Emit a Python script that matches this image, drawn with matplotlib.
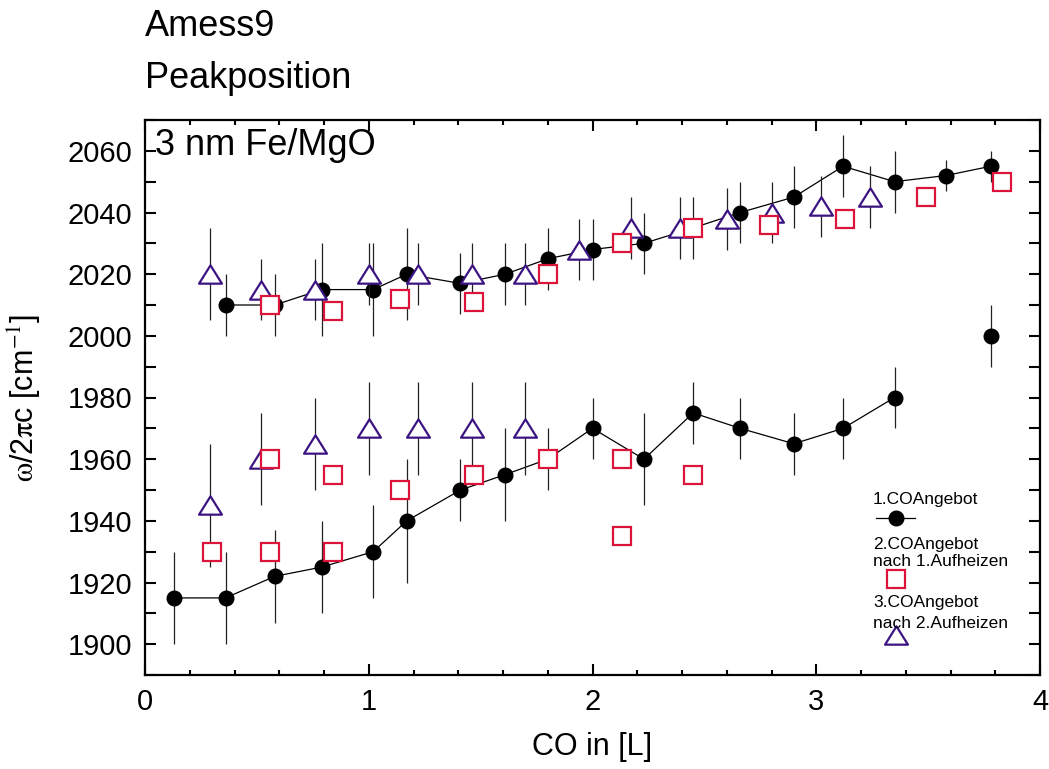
import matplotlib
matplotlib.use("Agg")
import matplotlib.pyplot as plt
from matplotlib.ticker import MultipleLocator
from matplotlib.path import Path

plt.rcParams['font.family'] = ['Liberation Sans', 'DejaVu Sans']
plt.rcParams['mathtext.fontset'] = 'stix'

# 1. CO Angebot (filled circles, connected, with error bars)
circ_up_x = [0.36, 0.58, 0.79, 1.02, 1.17, 1.41, 1.61, 1.80, 2.00, 2.23, 2.45, 2.66, 2.90, 3.12, 3.35, 3.58, 3.78]
circ_up_y = [2010, 2010, 2015, 2015, 2020, 2017, 2020, 2025, 2028, 2030, 2035, 2040, 2045, 2055, 2050, 2052, 2055]
circ_up_err = [10, 10, 15, 15, 15, 10, 10, 10, 10, 10, 10, 10, 10, 10, 10, 5, 5]

circ_lo_x = [0.13, 0.36, 0.58, 0.79, 1.02, 1.17, 1.41, 1.61, 1.80, 2.00, 2.23, 2.45, 2.66, 2.90, 3.12, 3.35]
circ_lo_y = [1915, 1915, 1922, 1925, 1930, 1940, 1950, 1955, 1960, 1970, 1960, 1975, 1970, 1965, 1970, 1980]
circ_lo_err = [15, 15, 15, 15, 15, 20, 10, 15, 10, 10, 15, 10, 10, 10, 10, 10]

circ_single_x = [3.78]
circ_single_y = [2000]
circ_single_err = [10]

# 2. CO Angebot nach 1. Aufheizen (open squares)
sq_up_x = [0.56, 0.84, 1.14, 1.47, 1.80, 2.13, 2.45, 2.79, 3.13, 3.49, 3.83]
sq_up_y = [2010, 2008, 2012, 2011, 2020, 2030, 2035, 2036, 2038, 2045, 2050]
sq_lo_x = [0.30, 0.56, 0.84, 0.56, 0.84, 1.14, 1.47, 1.80, 2.13, 2.45, 2.13]
sq_lo_y = [1930, 1930, 1930, 1960, 1955, 1950, 1955, 1960, 1960, 1955, 1935]

# 3. CO Angebot nach 2. Aufheizen (open triangles, with error bars)
tri_up_x = [0.29, 0.52, 0.76, 1.00, 1.22, 1.46, 1.70, 1.94, 2.17, 2.39, 2.60, 2.80, 3.02, 3.24]
tri_up_y = [2020, 2015, 2015, 2020, 2020, 2020, 2020, 2028, 2035, 2035, 2038, 2040, 2042, 2045]
tri_up_err = [15, 10, 10, 10, 10, 10, 10, 10, 10, 10, 10, 10, 10, 10]
tri_lo_x = [0.29, 0.52, 0.76, 1.00, 1.22, 1.46, 1.70]
tri_lo_y = [1945, 1960, 1965, 1970, 1970, 1970, 1970]
tri_lo_err = [20, 15, 15, 15, 15, 15, 15]

legend_labels = ["1.COAngebot", "2.COAngebot\nnach 1.Aufheizen", "3.COAngebot\nnach 2.Aufheizen"]

RED = '#dc143c'
PURPLE = '#3c1482'

# wide, flat open triangle
tri_marker = Path([(-1.0, -0.8), (1.0, -0.8), (0.0, 0.8), (-1.0, -0.8)],
                  [Path.MOVETO, Path.LINETO, Path.LINETO, Path.CLOSEPOLY])

fig = plt.figure(figsize=(10.49, 7.69), dpi=100)
ax = fig.add_axes([145 / 1049, 1 - 675 / 769, 895 / 1049, 555 / 769])

err_kw = dict(ecolor='#222222', elinewidth=0.9, capsize=0)

for xs, ys, es in [(circ_up_x, circ_up_y, circ_up_err), (circ_lo_x, circ_lo_y, circ_lo_err)]:
    ax.errorbar(xs, ys, yerr=es, fmt='o', color='black', markersize=10.5,
                linestyle='-', linewidth=0.9, zorder=2, **err_kw)
ax.errorbar(circ_single_x, circ_single_y, yerr=circ_single_err, fmt='o', color='black',
            markersize=10.5, zorder=2, **err_kw)

for xs, ys, es in [(tri_up_x, tri_up_y, tri_up_err), (tri_lo_x, tri_lo_y, tri_lo_err)]:
    ax.errorbar(xs, ys, yerr=es, fmt='none', zorder=3, **err_kw)
    ax.plot(xs, ys, linestyle='none', marker=tri_marker, markersize=16.5,
            markerfacecolor='white', markeredgecolor=PURPLE, markeredgewidth=1.6, zorder=4)

for xs, ys in [(sq_up_x, sq_up_y), (sq_lo_x, sq_lo_y)]:
    ax.plot(xs, ys, linestyle='none', marker='s', markersize=12.5,
            markerfacecolor='white', markeredgecolor=RED, markeredgewidth=1.6, zorder=5)

ax.set_xlim(0, 4)
ax.set_ylim(1890, 2070)
ax.xaxis.set_major_locator(MultipleLocator(1))
ax.xaxis.set_minor_locator(MultipleLocator(0.2))
ax.yaxis.set_major_locator(MultipleLocator(20))
ax.yaxis.set_minor_locator(MultipleLocator(10))
ax.tick_params(which='both', direction='in', top=True, right=True, width=1.5, labelsize=21)
ax.tick_params(axis='x', which='major', length=8, pad=9)
ax.tick_params(axis='x', which='minor', length=3.8)
ax.tick_params(axis='y', which='both', length=8, pad=9)
for sp in ax.spines.values():
    sp.set_linewidth(1.6)

ax.set_xlabel("CO in [L]", fontsize=22, labelpad=12)
ax.set_ylabel(r"$\mathrm{\omega}$/2$\mathrm{\pi}$c [cm$^{-1}$]", fontsize=22, labelpad=18)

ax.text(0.011, 0.985, "3 nm Fe/MgO", transform=ax.transAxes, fontsize=26,
        ha='left', va='top')

fig.text(145 / 1049, 1 - 36 / 769, "Amess9", fontsize=26, ha='left', va='baseline')
fig.text(145 / 1049, 1 - 88 / 769, "Peakposition", fontsize=26, ha='left', va='baseline')

# key
tx = 0.8134
mx = 0.839
ax.text(tx, 0.317, legend_labels[0], transform=ax.transAxes, fontsize=12.5, va='center')
ax.plot([0.817, 0.860], [0.283, 0.283], transform=ax.transAxes, color='black',
        linewidth=0.9, clip_on=False)
ax.plot([mx], [0.283], transform=ax.transAxes, marker='o', color='black',
        markersize=10.5, clip_on=False)
ax.text(tx, 0.220, legend_labels[1], transform=ax.transAxes, fontsize=12.5, va='center',
        linespacing=1.1)
ax.plot([mx], [0.173], transform=ax.transAxes, marker='s', markersize=12.5,
        markerfacecolor='white', markeredgecolor=RED, markeredgewidth=1.6, clip_on=False)
ax.text(tx, 0.112, legend_labels[2], transform=ax.transAxes, fontsize=12.5, va='center',
        linespacing=1.45)
ax.plot([mx], [0.072], transform=ax.transAxes, marker=tri_marker, markersize=16.5,
        markerfacecolor='white', markeredgecolor=PURPLE, markeredgewidth=1.6, clip_on=False)

fig.savefig("out.png", dpi=100)
